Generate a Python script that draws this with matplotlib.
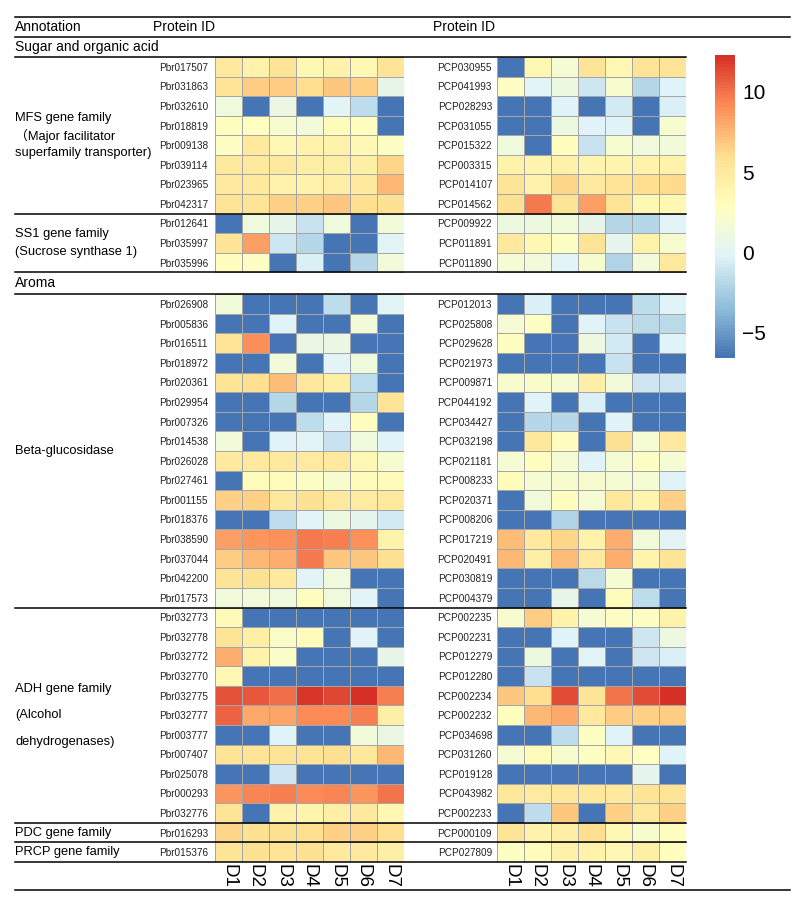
import numpy as np
import matplotlib.pyplot as plt
import matplotlib.transforms as mtransforms
from matplotlib.colors import LinearSegmentedColormap
from matplotlib.lines import Line2D

plt.rcParams['font.family'] = ['Liberation Sans', 'Noto Sans CJK SC', 'DejaVu Sans']

days = ['D1', 'D2', 'D3', 'D4', 'D5', 'D6', 'D7']

# sugar and organic acid block (MFS 8 rows, SS1 3 rows)
pbr_sugar_ids = ['Pbr017507', 'Pbr031863', 'Pbr032610', 'Pbr018819', 'Pbr009138', 'Pbr039114',
                 'Pbr023965', 'Pbr042317', 'Pbr012641', 'Pbr035997', 'Pbr035996']
pbr_sugar = [
    [5, 4, 5.5, 3.5, 4, 3.5, 5.5],
    [5.5, 6.8, 6.8, 6, 7, 6.5, 0.5],
    [1.3, -6.6, 0.8, -6.6, 0, -1.5, -6.6],
    [3, 2.8, 2, 1.5, 3.2, 3, -6.6],
    [2.5, 5, 3.5, 4, 4, 3.5, 2.5],
    [5, 5, 5, 4.5, 4.5, 4.5, 6.3],
    [5, 5, 4, 4, 4.5, 5, 7.5],
    [5.5, 5.5, 6.5, 6.5, 7, 6, 5.8],
    [-6.6, 1.2, 0.5, -1.2, 1.2, -6.6, 1.5],
    [5.5, 8.5, -1, -2, -6.6, -6.6, 0],
    [3, 2.5, -6.6, -0.5, -6.6, -2, 1.5],
]
pcp_sugar_ids = ['PCP030955', 'PCP041993', 'PCP028293', 'PCP031055', 'PCP015322', 'PCP003315',
                 'PCP014107', 'PCP014562', 'PCP009922', 'PCP011891', 'PCP011890']
pcp_sugar = [
    [-6.6, 3.5, 1.8, 5.5, 3.5, 5.5, 5.5],
    [2.5, 0, 1, -1, 2, -2, -0.3],
    [-6.6, -6.6, -0.3, -6.6, -0.8, -6.6, -0.5],
    [-6.6, -6.6, 1, -0.3, -0.3, -6.6, 2],
    [1.2, -6.6, 3, -1.2, 2, 1.2, 1.5],
    [4, 3.8, 4.2, 3.8, 3.8, 4, 4],
    [5.5, 4, 6.3, 5, 5.5, 6, 6.2],
    [5.8, 9.8, 5.5, 8.5, 5.5, 3.5, 3.5],
    [1, 1, 1.5, 0.5, -2, -2, 0],
    [5, 3.5, 2.5, 5.5, 0.3, 4, 2],
    [1.8, 1.5, 0, 2, -2.2, 1.5, 5],
]

# aroma block (Beta-glucosidase 16, ADH 11, PDC 1, PRCP 1)
pbr_aroma_ids = ['Pbr026908', 'Pbr005836', 'Pbr016511', 'Pbr018972', 'Pbr020361', 'Pbr029954',
                 'Pbr007326', 'Pbr014538', 'Pbr026028', 'Pbr027461', 'Pbr001155', 'Pbr018376',
                 'Pbr038590', 'Pbr037044', 'Pbr042200', 'Pbr017573',
                 'Pbr032773', 'Pbr032778', 'Pbr032772', 'Pbr032770', 'Pbr032775', 'Pbr032777',
                 'Pbr003777', 'Pbr007407', 'Pbr025078', 'Pbr000293', 'Pbr032776',
                 'Pbr016293', 'Pbr015376']
pbr_aroma = [
    [1.5, -6.6, -6.6, -6.6, -1.5, -6.6, 0],
    [-6.6, -6.6, -0.3, -6.6, -6.6, 1.5, -6.6],
    [5.5, 9, -6.6, 0.8, 0.8, -6.6, -6.6],
    [-6.6, -6.6, 1.5, -6.6, 0, 1.2, -6.6],
    [5.5, 6, 7.3, 5.3, 4.5, -1.5, -6.6],
    [-6.6, -6.6, -2, -6.6, -6.6, -2, 5.5],
    [-6.6, -6.6, -6.6, -1.5, -0.2, 3, -6.6],
    [1.5, -6.6, -0.2, 0, -1.2, 1.2, -0.2],
    [5, 5, 5, 4.8, 5, 3.5, 2],
    [-6.6, 3.2, 3.2, 2.5, 2, 3.2, 3.2],
    [6.5, 6.5, 5.3, 5.8, 5, 4.8, 5],
    [-6.6, -6.6, -1.5, 0, 1, 0.3, -0.8],
    [8.5, 8.8, 9, 9.8, 9.5, 9, 4],
    [6.8, 7.5, 7.8, 9.8, 7, 7, 5.8],
    [5.5, 5.8, 5, 0, 1.2, -6.6, -6.6],
    [1.5, 1.5, 1.2, 3, 1.2, 0, -6.6],
    [3.3, -6.6, -6.6, -6.6, -6.6, -6.6, -6.6],
    [5.5, 4.5, 2.3, 3.2, -6.6, -0.2, -6.6],
    [7.8, 4, 2.3, -6.6, -6.6, -6.6, 0.5],
    [3.5, -6.6, -6.6, -6.6, -6.6, -6.6, -6.6],
    [11, 10.8, 10.2, 12, 11.5, 12.2, 9.6],
    [10.5, 8, 8.3, 9.2, 9.2, 9.6, 4.5],
    [-6.6, -6.6, -0.3, -6.6, -6.6, 1.5, 0.8],
    [5.5, 5.5, 5.5, 5.5, 6, 5.3, 7.5],
    [-6.6, -6.6, -1, -6.6, -6.6, -6.6, -6.6],
    [8.8, 9.3, 9.6, 9.2, 9.3, 8.8, 10],
    [5.5, -6.6, 4, 3.8, 4.5, 5, 3.5],
    [6.3, 5.8, 5.8, 6, 6.5, 6.5, 6],
    [5.5, 5.8, 5.5, 5.8, 5, 5, 4.5],
]
pcp_aroma_ids = ['PCP012013', 'PCP025808', 'PCP029628', 'PCP021973', 'PCP009871', 'PCP044192',
                 'PCP034427', 'PCP032198', 'PCP021181', 'PCP008233', 'PCP020371', 'PCP008206',
                 'PCP017219', 'PCP020491', 'PCP030819', 'PCP004379',
                 'PCP002235', 'PCP002231', 'PCP012279', 'PCP012280', 'PCP002234', 'PCP002232',
                 'PCP034698', 'PCP031260', 'PCP019128', 'PCP043982', 'PCP002233',
                 'PCP000109', 'PCP027809']
pcp_aroma = [
    [-6.6, -0.5, -6.6, -6.6, -6.6, -1.5, -0.3],
    [1.8, 2.5, -6.6, -0.3, -1.2, -1.8, -1.8],
    [3, -6.6, -6.6, 1, -0.8, -6.6, -0.3],
    [-6.6, -6.6, -6.6, -6.6, -1.2, -6.6, -6.6],
    [2, 2.2, 1.8, 4.5, 1.5, -1, -1],
    [-6.6, -0.3, -6.6, -0.5, -6.6, -6.6, -6.6],
    [-6.6, -2, -2, -6.6, -0.2, -6.6, -6.6],
    [-6.6, 5.3, 3, -6.6, 5.8, 1.8, 5],
    [1.8, 3, 1.8, -0.3, 1.8, 2.5, 1.8],
    [3.2, 1.8, 2, 2, 1.8, 1.8, -0.2],
    [-6.6, 1.5, 3, 1.8, 5.3, 3.8, 6.5],
    [-6.6, -6.6, -2.2, -6.6, -6.6, -6.6, -6.6],
    [7.3, 5, 6.3, 4, 7.8, 1.5, 0],
    [7.5, 4.5, 7.3, 5, 7.8, 3.8, 5.5],
    [-6.6, -6.6, -6.6, -1.8, 1.8, -6.6, -6.6],
    [-6.6, -6.6, 0.5, -6.6, 3.2, -1.5, -6.6],
    [2, 6.8, 4, 1.8, 2.5, 2.5, 4],
    [-6.6, -6.6, -0.3, -6.6, -6.6, -1, 1],
    [-6.6, 1, -6.6, 0, -6.6, -1, -0.5],
    [-6.6, -1.2, -6.6, -6.6, -6.6, -6.6, -6.6],
    [7, 6, 11.2, 5.5, 10, 11.3, 12.2],
    [3, 7.5, 8, 5, 6.8, 6.5, 6.8],
    [-6.6, -6.6, -1.5, 2.5, -0.3, -6.6, -6.6],
    [1.8, 3.2, 2, 2.5, 3.5, 2.8, -0.3],
    [-6.6, -6.6, -6.6, -6.6, -6.6, 0.3, -6.6],
    [5.2, 4.8, 5.2, 5.3, 5, 5.5, 5.5],
    [-6.6, -1.5, 7, -6.6, 6.5, 5.3, 6.5],
    [5.5, 4, 4.5, 6, 3.5, 2, 3],
    [2.5, 3.2, 4.2, 4, 3.5, 4.5, 3],
]

W, H = 798, 899
fig = plt.figure(figsize=(W / 100, H / 100), dpi=100)


def fx(x):
    return x / W


def fy(y):
    return 1 - y / H


cmap = LinearSegmentedColormap.from_list(
    'pheat', ['#4575B4', '#91BFDB', '#E0F3F8', '#FFFFBF', '#FEE090', '#FC8D59', '#D73027'], N=100)
vmin, vmax = -6.6, 12.3

n_top = len(pbr_sugar)
n_bot = len(pbr_aroma)
gap = 1.125
total = n_top + gap + n_bot
top_px, bot_px = 57, 862


def heat(x0, x1, ids_top, vals_top, ids_bot, vals_bot, pad):
    ax = fig.add_axes([fx(x0), fy(bot_px), fx(x1) - fx(x0), (bot_px - top_px) / H])
    xe = np.arange(len(days) + 1)
    ye_top = np.arange(n_top + 1)
    ye_bot = np.arange(n_bot + 1) + n_top + gap
    mesh = ax.pcolormesh(xe, ye_top, np.array(vals_top), cmap=cmap, vmin=vmin, vmax=vmax,
                         edgecolors='#A6A6A6', linewidth=0.7)
    ax.pcolormesh(xe, ye_bot, np.array(vals_bot), cmap=cmap, vmin=vmin, vmax=vmax,
                  edgecolors='#A6A6A6', linewidth=0.7)
    ax.set_xlim(0, len(days))
    ax.set_ylim(total, 0)
    yt = list(ye_top[:-1] + 0.5) + list(ye_bot[:-1] + 0.5)
    ax.set_yticks(yt, ids_top + ids_bot, fontsize=7.2)
    ax.set_xticks(np.arange(len(days)) + 0.5, days, fontsize=13.5, rotation=270)
    ax.tick_params(axis='y', length=0, pad=pad, colors='#222222')
    ax.tick_params(axis='x', length=0, pad=1.5)
    for s in ax.spines.values():
        s.set_visible(False)
    return ax, mesh


axL, mesh = heat(215, 404, pbr_sugar_ids, pbr_sugar, pbr_aroma_ids, pbr_aroma, 5)
axR, _ = heat(497, 686, pcp_sugar_ids, pcp_sugar, pcp_aroma_ids, pcp_aroma, 3.6)

# colour bar
cax = fig.add_axes([fx(715), fy(358), fx(735) - fx(715), (358 - 55) / H])
cb = fig.colorbar(mesh, cax=cax, ticks=[-5, 0, 5, 10])
cb.outline.set_visible(False)
cax.tick_params(length=0, labelsize=15, pad=5)

# table rules
lw = 1.1
for y in [17, 37, 890]:
    fig.add_artist(Line2D([fx(15), fx(790)], [fy(y), fy(y)], color='black', lw=lw))

tr = mtransforms.blended_transform_factory(fig.transFigure, axL.transData)
a0 = n_top + gap
for yb in [0, 8, n_top, a0, a0 + 16, a0 + 27, a0 + 28, a0 + 29]:
    fig.add_artist(Line2D([fx(15), fx(686)], [yb, yb], color='black', lw=lw, transform=tr))

# header texts
fs = 10
fig.text(fx(15), fy(27), 'Annotation', fontsize=fs, va='center')
fig.text(fx(153), fy(27), 'Protein ID', fontsize=fs, va='center')
fig.text(fx(433), fy(27), 'Protein ID', fontsize=fs, va='center')
fig.text(fx(15), fy(47), 'Sugar and organic acid', fontsize=fs, va='center')
fig.text(fx(15), fy(283), 'Aroma', fontsize=fs, va='center')

# group annotations
gs = 9.3
groups = [
    ('MFS gene family\n（Major facilitator\nsuperfamily transporter)', 4, 1.45),
    ('SS1 gene family\n(Sucrose synthase 1)', 9.5, 1.75),
    ('Beta-glucosidase', a0 + 8, 1.2),
    ('ADH gene family\n(Alcohol\ndehydrogenases)', a0 + 21.5, 2.6),
    ('PDC gene family', a0 + 27.5, 1.2),
    ('PRCP gene family', a0 + 28.5, 1.2),
]
for label, yc, ls in groups:
    fig.text(fx(15), yc, label, fontsize=gs, va='center', ha='left', linespacing=ls,
             transform=tr)

fig.savefig('out.png', dpi=100)
